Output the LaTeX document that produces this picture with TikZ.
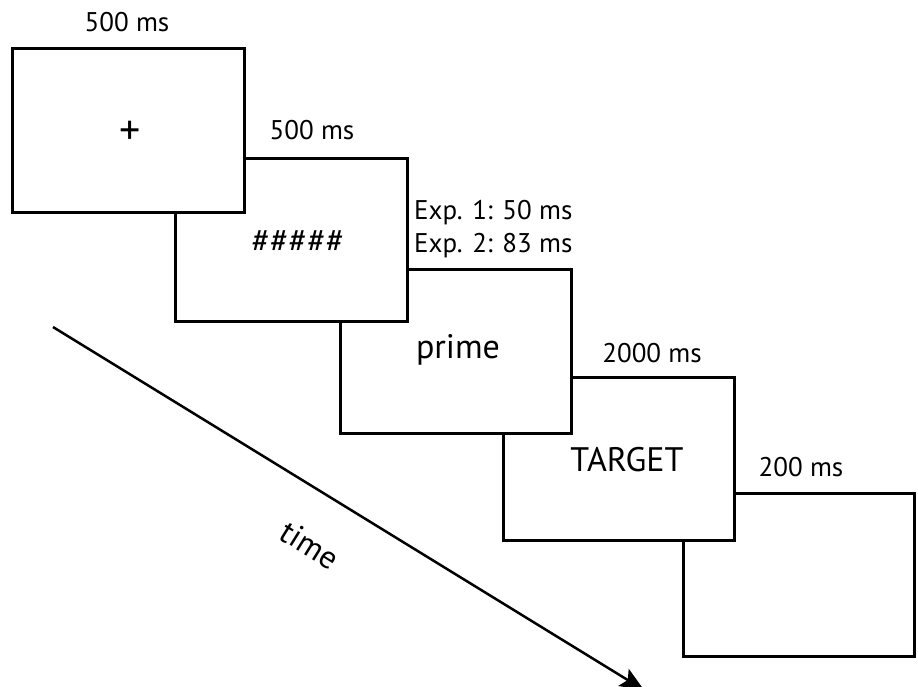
\documentclass[tikz,border=0pt]{standalone}
\usepackage{fontspec}
\setmainfont{PT Sans}
\usetikzlibrary{arrows.meta}
\begin{document}
\begin{tikzpicture}[x=1pt,y=-1pt,
  screen/.style={draw=black,line width=3pt,fill=white},
  lab/.style={font=\fontsize{27}{33}\selectfont,inner sep=0pt},
  content/.style={font=\fontsize{34}{38}\selectfont,inner sep=0pt}]
\useasboundingbox (0,0) rectangle (918,686);
% time arrow
\coordinate (ts) at (53,327);
\coordinate (te) at (644,690);
\draw[line width=2.5pt,-{Stealth[length=24pt,width=20pt,inset=5pt]}] (ts) -- (te);
\node[font=\fontsize{32}{36}\selectfont,rotate=-32,inner sep=0pt] (time) at (310,545) {time};
% screens, later ones below earlier ones
\draw[screen] (683,493) rectangle (914,656);
\node[lab] (l5) at (801,467) {200 ms};
\draw[screen] (503,377) rectangle (734,540);
\node[content] (c4) at (627,460) {TARGET};
\node[lab] (l4) at (652,353) {2000 ms};
\draw[screen] (340,269) rectangle (571,433);
\node[content] (c3) at (458,350) {prime};
\node[lab,anchor=west,align=left] (l3) at (414,229) {Exp. 1: 50 ms\\Exp. 2: 83 ms};
\draw[screen] (175,158) rectangle (407,321);
\node[content] (c2) at (298,242) {\#\#\#\#\#};
\node[lab] (l2) at (312,130) {500 ms};
\draw[screen] (12,48) rectangle (244,212);
\node[content,font=\fontsize{42}{44}\selectfont] (c1) at (130,133) {+};
\node[lab] (l1) at (127,22) {500 ms};
\end{tikzpicture}
\end{document}
